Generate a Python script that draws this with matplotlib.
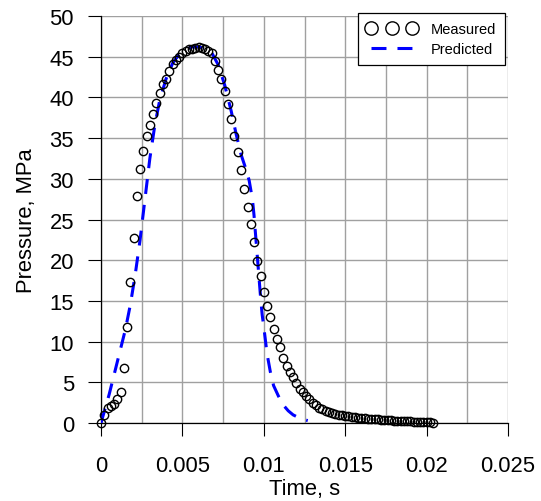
import numpy as np
import matplotlib
matplotlib.use('Agg')
import matplotlib.pyplot as plt
from matplotlib.ticker import MultipleLocator, FixedLocator

plt.rcParams['font.family'] = ['Liberation Sans', 'DejaVu Sans']

# Measured pressure, sampled every 0.2 ms
dt = 0.0002
p_measured = [
    0.0, 1.0, 1.8, 2.1, 2.3, 2.9, 3.8, 6.8, 11.8, 17.3,
    22.7, 27.9, 31.2, 33.4, 35.2, 36.6, 38.0, 39.3, 40.6, 41.6,
    42.3, 43.3, 44.1, 44.6, 45.0, 45.4, 45.7, 45.9, 46.0, 46.1,
    46.15, 46.1, 45.95, 45.7, 45.4, 44.5, 43.4, 42.3, 40.8, 39.2,
    37.3, 35.3, 33.3, 31.1, 28.7, 26.5, 24.4, 22.2, 19.9, 18.1,
    16.1, 14.4, 13.0, 11.5, 10.3, 9.3, 8.0, 7.0, 6.3, 5.6,
    4.9, 4.2, 3.8, 3.3, 2.9, 2.5, 2.2, 1.9, 1.7, 1.45,
    1.3, 1.2, 1.1, 1.0, 0.93, 0.87, 0.81, 0.76, 0.71, 0.66,
    0.62, 0.58, 0.54, 0.5, 0.47, 0.44, 0.41, 0.38, 0.35, 0.32,
    0.3, 0.28, 0.26, 0.24, 0.22, 0.2, 0.18, 0.16, 0.14, 0.12,
    0.1, 0.08, 0.06,
]
t_measured = [i * dt for i in range(len(p_measured))]

# Predicted curve
t_predicted = [
    0.0, 0.0005, 0.001, 0.0015, 0.0018, 0.0021, 0.0024, 0.0027, 0.003, 0.0033,
    0.0036, 0.004, 0.0044, 0.0048, 0.0052, 0.0056, 0.006, 0.0064, 0.0068, 0.0072,
    0.0076, 0.008, 0.0083, 0.0086, 0.0089, 0.0091, 0.0093, 0.0094, 0.0095, 0.0096,
    0.0097, 0.0098, 0.0099, 0.0100, 0.0102, 0.0104, 0.0106, 0.0109, 0.0112, 0.0115,
    0.0118, 0.0121, 0.0124, 0.0127,
]
p_predicted = [
    0.0, 3.5, 7.5, 11.5, 14.5, 18.2, 22.5, 27.5, 32.5, 36.5,
    39.6, 42.3, 44.2, 45.3, 45.9, 46.2, 46.2, 46.0, 45.5, 44.0,
    41.5, 38.3, 35.5, 33.0, 31.2, 29.8, 27.5, 25.5, 23.0, 20.5,
    18.0, 15.5, 13.3, 11.8, 8.5, 6.3, 4.6, 3.3, 2.2, 1.5,
    1.0, 0.7, 0.45, 0.3,
]

x_ticks = [0, 0.005, 0.01, 0.015, 0.02, 0.025]
x_tick_labels = ['0', '0.005', '0.01', '0.015', '0.02', '0.025']

fig = plt.figure(figsize=(5.41, 5.02), dpi=100)
ax = fig.add_axes([101 / 541, 78 / 502, 407 / 541, 407 / 502])

line, = ax.plot(t_predicted, p_predicted, color='#0000FF', lw=2.2,
                label='Predicted', zorder=3)
line.set_dashes((4.9, 3.6))
ax.plot(t_measured, p_measured, linestyle='none', marker='o', ms=6,
        mfc='none', mec='black', mew=1.0, label='Measured',
        clip_on=False, zorder=4)

ax.set_xlim(0, 0.025)
ax.set_ylim(0, 50)
ax.xaxis.set_major_locator(FixedLocator(x_ticks))
ax.set_xticklabels(x_tick_labels)
ax.xaxis.set_minor_locator(MultipleLocator(0.0025))
ax.yaxis.set_major_locator(MultipleLocator(5))

ax.grid(True, which='both', color='#a0a0a0', lw=1.0, zorder=0)
ax.set_axisbelow(True)
ax.tick_params(which='major', direction='out', length=9.4, width=0.8,
               labelsize=15.8, color='black')
ax.tick_params(axis='x', which='major', pad=14)
ax.tick_params(axis='y', which='major', pad=10)
ax.tick_params(which='minor', length=0)

for side in ['top', 'right']:
    ax.spines[side].set_visible(False)
for side in ['left', 'bottom']:
    ax.spines[side].set_color('black')
    ax.spines[side].set_linewidth(0.9)

ax.set_xlabel('Time, s', fontsize=15.8, labelpad=1)
ax.set_ylabel('Pressure, MPa', fontsize=15.8, labelpad=9)

handles, labels = ax.get_legend_handles_labels()
leg = ax.legend(handles[::-1], labels[::-1], loc='upper right',
                bbox_to_anchor=(505 / 541, 1 - 14 / 502),
                bbox_transform=fig.transFigure, numpoints=3, markerscale=1.6,
                fontsize=10.5, handlelength=3.4, handletextpad=1.0,
                borderpad=0.6, fancybox=False, framealpha=1,
                edgecolor='black', borderaxespad=0, labelspacing=0.45)
leg.get_frame().set_linewidth(0.9)

fig.savefig('out.png', dpi=100)
